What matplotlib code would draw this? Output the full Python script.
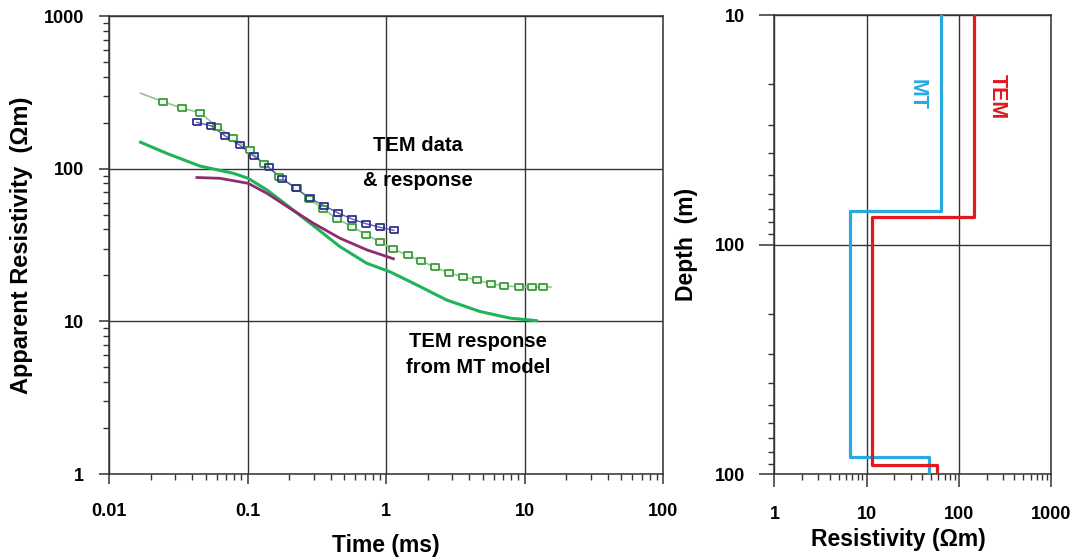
import numpy as np
import matplotlib.pyplot as plt
from matplotlib.ticker import FixedLocator, LogLocator, NullFormatter

plt.rcParams['font.family'] = ['Liberation Sans', 'DejaVu Sans']
plt.rcParams['font.weight'] = 'bold'

# TEM sounding: observed data (green) with smooth fit line
tem_t = [0.0245, 0.0337, 0.0454, 0.0603, 0.0785, 0.104, 0.131, 0.169, 0.228,
         0.278, 0.351, 0.443, 0.569, 0.718, 0.906, 1.12, 1.44, 1.79, 2.26,
         2.85, 3.60, 4.54, 5.73, 7.11, 9.12, 11.3, 13.6]
tem_rho = [275, 249, 233, 188, 160, 132, 108, 88.7, 74.4, 63.4, 54.5, 47.1,
           41.7, 37.0, 33.1, 29.8, 27.1, 24.9, 22.6, 20.8, 19.5, 18.7, 17.6,
           17.1, 16.8, 16.8, 16.8]
fit_t = [0.0169] + tem_t + [15.5]
fit_rho = [312] + tem_rho + [16.8]

# second data set (navy squares)
navy_t = [0.0431, 0.0544, 0.0689, 0.0883, 0.111, 0.143, 0.177, 0.224, 0.282,
          0.356, 0.450, 0.569, 0.718, 0.906, 1.14]
navy_rho = [201, 191, 164, 142, 121, 102, 86.0, 74.2, 64.0, 57.3, 51.3, 46.8,
            43.6, 41.3, 39.5]

# purple response curve
purple_t = [0.0431, 0.0632, 0.101, 0.138, 0.203, 0.299, 0.466, 0.727, 1.13]
purple_rho = [87.5, 86.5, 80.2, 69.0, 54.9, 43.9, 35.0, 29.4, 25.7]

# TEM response computed from the MT model
mtresp_t = [0.0169, 0.0261, 0.0454, 0.0789, 0.101, 0.138, 0.192, 0.305,
            0.466, 0.727, 1.07, 1.57, 2.74, 4.77, 7.85, 12.2]
mtresp_rho = [149, 126, 104, 93.3, 86.5, 72.6, 57.8, 41.7, 30.8, 24.0, 21.1,
              17.8, 13.8, 11.6, 10.5, 10.1]

# layered resistivity models (step profiles)
mt_res = [63.7, 63.7, 6.58, 6.58, 47.2, 47.2]
mt_depth = [10, 71.5, 71.5, 841, 841, 1000]
tem_res = [146, 146, 11.3, 11.3, 58.0, 58.0]
tem_depth = [10, 76.1, 76.1, 914, 914, 1000]

left_xticks = [0.01, 0.1, 1, 10, 100]
left_xlabels = ['0.01', '0.1', '1', '10', '100']
left_yticks = [1, 10, 100, 1000]
left_ylabels = ['1', '10', '100', '1000']
right_xticks = [1, 10, 100, 1000]
right_xlabels = ['1', '10', '100', '1000']
right_yticks = [10, 100, 1000]
right_ylabels = ['10', '100', '100']

grid_col = '#333333'
rect = [(-1, -0.7), (1, -0.7), (1, 0.7), (-1, 0.7), (-1, -0.7)]

fig = plt.figure(figsize=(10.73, 5.58), dpi=100)
ax1 = fig.add_axes([0.1016, 0.1505, 0.5163, 0.8208])
ax2 = fig.add_axes([0.7218, 0.1505, 0.2577, 0.8226])


def style_axis(ax, major_len, pad_x, pad_y):
    for sp in ax.spines.values():
        sp.set_color(grid_col)
        sp.set_linewidth(1.1)
    ax.grid(True, which='major', color=grid_col, linewidth=1.0)
    ax.tick_params(which='major', direction='out', length=major_len, width=1.1,
                   color=grid_col, labelsize=13)
    ax.tick_params(which='minor', direction='out', length=4, width=1.0,
                   color=grid_col)
    ax.tick_params(axis='x', pad=pad_x)
    ax.tick_params(axis='y', pad=pad_y)
    ax.xaxis.set_minor_locator(LogLocator(base=10, subs=np.arange(2, 10)))
    ax.yaxis.set_minor_locator(LogLocator(base=10, subs=np.arange(2, 10)))
    ax.xaxis.set_minor_formatter(NullFormatter())
    ax.yaxis.set_minor_formatter(NullFormatter())
    ax.set_axisbelow(True)


# ---- left panel: apparent resistivity curves ----
ax1.set_xscale('log')
ax1.set_yscale('log')
ax1.set_xlim(0.01, 100)
ax1.set_ylim(1, 1000)
ax1.plot(fit_t, fit_rho, color='#8cc98c', lw=1.2, zorder=3)
ax1.plot(navy_t, navy_rho, color='#5a5fa8', lw=1.0, zorder=3)
ax1.plot(mtresp_t, mtresp_rho, color='#1fb35a', lw=2.2, zorder=4)
ax1.plot(purple_t, purple_rho, color='#8e2c6e', lw=2.0, zorder=4)
ax1.plot(tem_t, tem_rho, linestyle='none', marker=rect, markersize=5.5,
         markerfacecolor='#eef7ea', markeredgecolor='#3d9a3d', markeredgewidth=1.3, zorder=5)
ax1.plot(navy_t, navy_rho, linestyle='none', marker=rect, markersize=5.5,
         markerfacecolor='none', markeredgecolor='#2e3190', markeredgewidth=1.3, zorder=6)

style_axis(ax1, 7, 14, 11)
ax1.xaxis.set_major_locator(FixedLocator(left_xticks))
ax1.set_xticklabels(left_xlabels)
ax1.yaxis.set_major_locator(FixedLocator(left_yticks))
ax1.set_yticklabels(left_ylabels)
ax1.set_xlabel('Time (ms)', fontsize=16.5, fontweight='bold', labelpad=10)
ax1.set_ylabel('Apparent Resistivity  (Ωm)', fontsize=17, fontweight='bold')
ax1.yaxis.set_label_coords(-0.138, 0.5)

ax1.text(1.70, 141, 'TEM data', ha='center', va='center', fontsize=14.5, fontweight='bold')
ax1.text(1.70, 84.3, '& response', ha='center', va='center', fontsize=14.5, fontweight='bold')
ax1.text(4.61, 7.33, 'TEM response', ha='center', va='center', fontsize=14.5, fontweight='bold')
ax1.text(4.61, 5.02, 'from MT model', ha='center', va='center', fontsize=14.5, fontweight='bold')

# ---- right panel: 1D resistivity models ----
ax2.set_xscale('log')
ax2.set_yscale('log')
ax2.set_xlim(1, 1000)
ax2.set_ylim(1000, 10)
ax2.plot(mt_res, mt_depth, color='#27aae1', lw=2.3, zorder=4)
ax2.plot(tem_res, tem_depth, color='#f2a0a0', lw=1.0, ls=(0, (2, 2)), zorder=4)
ax2.plot(tem_res, tem_depth, color='#e3191f', lw=2.3, zorder=5)

style_axis(ax2, 9, 14, 10)
ax2.tick_params(axis='y', which='major', length=11)
ax2.xaxis.set_major_locator(FixedLocator(right_xticks))
ax2.set_xticklabels(right_xlabels)
ax2.yaxis.set_major_locator(FixedLocator(right_yticks))
ax2.set_yticklabels(right_ylabels)
ax2.set_xlabel('Resistivity (Ωm)', fontsize=16.5, fontweight='bold', labelpad=8)
ax2.xaxis.set_label_coords(0.447, -0.117)
ax2.set_ylabel('Depth  (m)', fontsize=16.5, fontweight='bold', labelpad=12)

ax2.text(35, 22.3, 'MT', color='#27aae1', rotation=-90, ha='center', va='center',
         fontsize=15.5, fontweight='bold')
ax2.text(264, 22.7, 'TEM', color='#e3191f', rotation=-90, ha='center', va='center',
         fontsize=15.5, fontweight='bold')

fig.savefig('out.png', dpi=100)
plt.close(fig)
